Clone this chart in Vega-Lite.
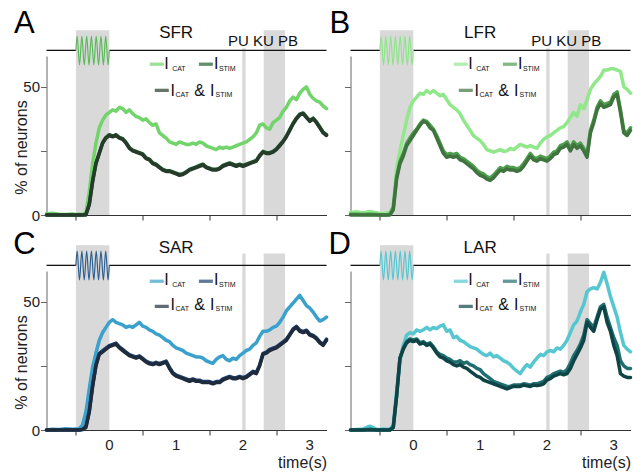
{
"$schema": "https://vega.github.io/schema/vega-lite/v6.json",
"background": "white",
"padding": {"left": 12.5, "top": 7, "right": 0, "bottom": 0},
"config": {
 "view": {"stroke": null},
 "font": "Liberation Sans",
 "axis": {"grid": false, "domainColor": "#333", "tickColor": "#333", "tickSize": 5, "labelFont": "Liberation Sans", "labelFontSize": 15, "labelColor": "#222", "labelPadding": 2, "labelOverlap": false, "titleFont": "Liberation Sans", "titleFontSize": 16, "titleFontWeight": "normal", "titleColor": "#222"},
 "axisY": {"domainColor": "#666", "tickColor": "#666", "tickSize": 6, "labelPadding": 1},
 "axisX": {"labelFlush": false, "titlePadding": 3}
},
"datasets": {
 "sine": [{"t":-0.5,"v":64.2},{"t":-0.482,"v":69.8},{"t":-0.446,"v":58.5},{"t":-0.411,"v":69.8},{"t":-0.375,"v":58.5},{"t":-0.339,"v":69.8},{"t":-0.304,"v":58.5},{"t":-0.268,"v":69.8},{"t":-0.232,"v":58.5},{"t":-0.196,"v":69.8},{"t":-0.161,"v":58.5},{"t":-0.125,"v":69.8},{"t":-0.089,"v":58.5},{"t":-0.054,"v":69.8},{"t":-0.018,"v":58.5},{"t":0,"v":64.2}],
 "xlabels": [{"t":0},{"t":1},{"t":2},{"t":3}],
 "lines": [
{"t":-0.94,"A1":0.5,"A2":0,"A3":0,"B1":1,"B2":0.3,"B3":0,"C1":0,"C2":0,"C3":0,"D1":0,"D2":0,"D3":0},
{"t":-0.85,"A1":0.7,"A2":0,"A3":0,"B1":1.3,"B2":0.3,"B3":0,"C1":0.3,"C2":0,"C3":0,"D1":0.2,"D2":0,"D3":0},
{"t":-0.75,"A1":0.3,"A2":0,"A3":0,"B1":0.8,"B2":0.2,"B3":0,"C1":0.2,"C2":0,"C3":0,"D1":0.4,"D2":0,"D3":0},
{"t":-0.65,"A1":0.2,"A2":0,"A3":0,"B1":1.4,"B2":0.3,"B3":0,"C1":0.5,"C2":0,"C3":0,"D1":1.5,"D2":0.3,"D3":0},
{"t":-0.55,"A1":0.4,"A2":0,"A3":0,"B1":0.9,"B2":0.2,"B3":0,"C1":0.3,"C2":0,"C3":0,"D1":0.3,"D2":0,"D3":0},
{"t":-0.5,"A1":0.2,"A2":0,"A3":0,"B1":0.6,"B2":0,"B3":0,"C1":0.4,"C2":0,"C3":0,"D1":0.2,"D2":0,"D3":0},
{"t":-0.45,"A1":0.3,"A2":0,"A3":0,"B1":0.5,"B2":0,"B3":0,"C1":0.5,"C2":0,"C3":0,"D1":0.4,"D2":0,"D3":0},
{"t":-0.4,"A1":0.2,"A2":0,"A3":0,"B1":0.8,"B2":0,"B3":0,"C1":2,"C2":0.3,"C3":0.2,"D1":0.3,"D2":0,"D3":0},
{"t":-0.35,"A1":1,"A2":0.3,"A3":0,"B1":1,"B2":0.3,"B3":0,"C1":7,"C2":1.4,"C3":1,"D1":0.3,"D2":0,"D3":0},
{"t":-0.3,"A1":9,"A2":4.3,"A3":4,"B1":3,"B2":3,"B3":2,"C1":16,"C2":7.4,"C3":7,"D1":2,"D2":1,"D3":1},
{"t":-0.25,"A1":20,"A2":13.3,"A3":13,"B1":18,"B2":15,"B3":14,"C1":24.5,"C2":17.4,"C3":17,"D1":15,"D2":13.5,"D3":13},
{"t":-0.2,"A1":28,"A2":20.3,"A3":20,"B1":25,"B2":21,"B3":20,"C1":30,"C2":25.4,"C3":25,"D1":27,"D2":28,"D3":28},
{"t":-0.15,"A1":34,"A2":24.3,"A3":24,"B1":31,"B2":24,"B3":23,"C1":35,"C2":29.9,"C3":29.5,"D1":33,"D2":32,"D3":31.5},
{"t":-0.1,"A1":37,"A2":28.3,"A3":28,"B1":37,"B2":28,"B3":27,"C1":38,"C2":30.9,"C3":30.5,"D1":37,"D2":34.5,"D3":34},
{"t":-0.05,"A1":39,"A2":30.3,"A3":30,"B1":42,"B2":30,"B3":29,"C1":40,"C2":31.9,"C3":31.5,"D1":38,"D2":35.5,"D3":35},
{"t":0,"A1":40,"A2":31.3,"A3":31,"B1":44.5,"B2":32,"B3":31,"C1":42,"C2":32.9,"C3":32.5,"D1":37.5,"D2":35,"D3":34.5},
{"t":0.05,"A1":41,"A2":30.8,"A3":30.5,"B1":46,"B2":33.5,"B3":33,"C1":43,"C2":33.4,"C3":33,"D1":39,"D2":35.5,"D3":35},
{"t":0.1,"A1":40.5,"A2":31.3,"A3":31,"B1":47.5,"B2":35.5,"B3":35,"C1":42,"C2":33.9,"C3":33.5,"D1":38.5,"D2":34,"D3":33.5},
{"t":0.15,"A1":42,"A2":30.3,"A3":30,"B1":47,"B2":37,"B3":36.5,"C1":41.5,"C2":32.4,"C3":32,"D1":39,"D2":34.5,"D3":34},
{"t":0.2,"A1":41.5,"A2":29.8,"A3":29.5,"B1":48.5,"B2":36.5,"B3":36,"C1":41,"C2":31.4,"C3":31,"D1":40,"D2":33.5,"D3":33},
{"t":0.25,"A1":40,"A2":28.3,"A3":28,"B1":47.5,"B2":35,"B3":34,"C1":40,"C2":30.4,"C3":30,"D1":39,"D2":34,"D3":33.5},
{"t":0.3,"A1":41,"A2":26.3,"A3":26,"B1":48.5,"B2":33.5,"B3":33,"C1":40.5,"C2":29.4,"C3":29,"D1":40,"D2":32.5,"D3":32},
{"t":0.35,"A1":39.5,"A2":25.3,"A3":25,"B1":47.5,"B2":31,"B3":30,"C1":40,"C2":28.9,"C3":28.5,"D1":39.5,"D2":30.5,"D3":30},
{"t":0.4,"A1":38.5,"A2":24.8,"A3":24.5,"B1":46.5,"B2":28,"B3":27,"C1":41,"C2":28.4,"C3":28,"D1":40.5,"D2":29.5,"D3":28.5},
{"t":0.45,"A1":38,"A2":24.3,"A3":24,"B1":47,"B2":25,"B3":24,"C1":42,"C2":28.9,"C3":28.5,"D1":41,"D2":29,"D3":28},
{"t":0.5,"A1":37,"A2":23.8,"A3":23.5,"B1":45,"B2":23.5,"B3":22.5,"C1":40.5,"C2":27.9,"C3":27.5,"D1":38.5,"D2":28,"D3":27},
{"t":0.55,"A1":37.5,"A2":22.3,"A3":22,"B1":43,"B2":24,"B3":23,"C1":40,"C2":26.9,"C3":26.5,"D1":39,"D2":27.5,"D3":26.5},
{"t":0.6,"A1":36,"A2":21.8,"A3":21.5,"B1":42,"B2":23.5,"B3":22.5,"C1":39,"C2":26.2,"C3":25.8,"D1":36,"D2":26.5,"D3":25.5},
{"t":0.65,"A1":35,"A2":20.3,"A3":20,"B1":41,"B2":24,"B3":23,"C1":38.5,"C2":25.9,"C3":25.5,"D1":36.5,"D2":26.5,"D3":25},
{"t":0.7,"A1":35.5,"A2":19.8,"A3":19.5,"B1":39.5,"B2":22.5,"B3":21.5,"C1":37.5,"C2":26.4,"C3":26,"D1":35,"D2":27,"D3":25.5},
{"t":0.75,"A1":32,"A2":18.8,"A3":18.5,"B1":37,"B2":22,"B3":21,"C1":37,"C2":25.9,"C3":25.5,"D1":34.5,"D2":26,"D3":24.5},
{"t":0.8,"A1":31,"A2":17.8,"A3":17.5,"B1":35,"B2":21,"B3":20,"C1":36,"C2":26.4,"C3":26,"D1":33.5,"D2":26.5,"D3":24},
{"t":0.85,"A1":30,"A2":17.3,"A3":17,"B1":33,"B2":20,"B3":19,"C1":35,"C2":26.9,"C3":26.5,"D1":32.5,"D2":25.5,"D3":23},
{"t":0.9,"A1":28.5,"A2":17.3,"A3":17,"B1":31,"B2":19,"B3":18,"C1":34.5,"C2":24.4,"C3":24,"D1":32,"D2":25,"D3":22},
{"t":0.95,"A1":28,"A2":16.8,"A3":16.5,"B1":30,"B2":17.5,"B3":16.5,"C1":33,"C2":22.4,"C3":22,"D1":31.5,"D2":24,"D3":21},
{"t":1,"A1":27.5,"A2":16.3,"A3":16,"B1":29,"B2":16.5,"B3":15.5,"C1":32,"C2":21.4,"C3":21,"D1":30.5,"D2":23.5,"D3":20.5},
{"t":1.05,"A1":28.5,"A2":15.8,"A3":15.5,"B1":27.5,"B2":16,"B3":15,"C1":31.5,"C2":20.9,"C3":20.5,"D1":29.5,"D2":22,"D3":19.5},
{"t":1.1,"A1":28,"A2":16.1,"A3":15.8,"B1":25.5,"B2":15,"B3":14,"C1":31,"C2":20.4,"C3":20,"D1":29,"D2":21,"D3":19},
{"t":1.15,"A1":27.5,"A2":16.8,"A3":16.5,"B1":25,"B2":14.5,"B3":13.5,"C1":30,"C2":19.9,"C3":19.5,"D1":30,"D2":20,"D3":18.5},
{"t":1.2,"A1":27.5,"A2":17.8,"A3":17.5,"B1":24.5,"B2":15.5,"B3":14.5,"C1":29.5,"C2":19.4,"C3":19,"D1":28.5,"D2":19,"D3":18},
{"t":1.25,"A1":28,"A2":18.3,"A3":18,"B1":25,"B2":17,"B3":16,"C1":29,"C2":19.9,"C3":19.5,"D1":29,"D2":18.5,"D3":17.5},
{"t":1.3,"A1":27.5,"A2":18.8,"A3":18.5,"B1":25.5,"B2":18.5,"B3":17.5,"C1":28.5,"C2":19.4,"C3":19,"D1":28,"D2":18,"D3":17},
{"t":1.35,"A1":28.5,"A2":19.3,"A3":19,"B1":24.8,"B2":18,"B3":17,"C1":28.5,"C2":19.4,"C3":19,"D1":27,"D2":17.5,"D3":16.5},
{"t":1.4,"A1":28,"A2":19.8,"A3":19.5,"B1":25,"B2":19,"B3":18,"C1":28,"C2":18.9,"C3":18.5,"D1":26.5,"D2":17,"D3":16},
{"t":1.45,"A1":27,"A2":18.8,"A3":18.5,"B1":26,"B2":18.5,"B3":17.5,"C1":27,"C2":18.9,"C3":18.5,"D1":25.5,"D2":17,"D3":16.5},
{"t":1.5,"A1":26.5,"A2":18.3,"A3":18,"B1":25.5,"B2":18.5,"B3":17.5,"C1":26.5,"C2":18.9,"C3":18.5,"D1":24,"D2":17.5,"D3":17},
{"t":1.55,"A1":26,"A2":17.8,"A3":17.5,"B1":26.5,"B2":18,"B3":17,"C1":26,"C2":18.4,"C3":18,"D1":23,"D2":17.5,"D3":17},
{"t":1.6,"A1":25.5,"A2":17.8,"A3":17.5,"B1":27.5,"B2":18.5,"B3":17.5,"C1":27.5,"C2":18.9,"C3":18.5,"D1":22,"D2":17.5,"D3":17},
{"t":1.65,"A1":26.5,"A2":18.3,"A3":18,"B1":27,"B2":20,"B3":19,"C1":28.5,"C2":18.9,"C3":18.5,"D1":24,"D2":18,"D3":17.5},
{"t":1.7,"A1":26,"A2":19.3,"A3":19,"B1":26.5,"B2":22,"B3":21,"C1":29,"C2":19.9,"C3":19.5,"D1":25.5,"D2":17.8,"D3":17.2},
{"t":1.75,"A1":26.5,"A2":19.8,"A3":19.5,"B1":27,"B2":24,"B3":23,"C1":27.5,"C2":20.4,"C3":20,"D1":24.5,"D2":17.5,"D3":17},
{"t":1.8,"A1":26,"A2":20.3,"A3":20,"B1":26.5,"B2":22.5,"B3":21.5,"C1":27,"C2":20.9,"C3":20.5,"D1":26.5,"D2":18,"D3":17.5},
{"t":1.85,"A1":26.5,"A2":19.8,"A3":19.5,"B1":26,"B2":22,"B3":21,"C1":28,"C2":20.4,"C3":20,"D1":28,"D2":18,"D3":17.3},
{"t":1.9,"A1":27,"A2":19.3,"A3":19,"B1":28,"B2":23,"B3":22,"C1":27.5,"C2":20.4,"C3":20,"D1":29.5,"D2":18.5,"D3":17.5},
{"t":1.95,"A1":27.5,"A2":19.8,"A3":19.5,"B1":29.5,"B2":22.5,"B3":21.5,"C1":29,"C2":20.9,"C3":20.5,"D1":29,"D2":19,"D3":18},
{"t":2,"A1":28,"A2":19.3,"A3":19,"B1":30.5,"B2":22,"B3":21,"C1":30,"C2":20.4,"C3":20,"D1":30.5,"D2":20.5,"D3":19.5},
{"t":2.05,"A1":28.5,"A2":19.8,"A3":19.5,"B1":31,"B2":23,"B3":22,"C1":31,"C2":20.9,"C3":20.5,"D1":31,"D2":21,"D3":20},
{"t":2.1,"A1":29.5,"A2":20.3,"A3":20,"B1":32,"B2":24.5,"B3":23.5,"C1":31.5,"C2":21.9,"C3":21.5,"D1":30.5,"D2":22,"D3":21},
{"t":2.15,"A1":30.5,"A2":20.8,"A3":20.5,"B1":33,"B2":25,"B3":24,"C1":33,"C2":22.9,"C3":22.5,"D1":32,"D2":22.5,"D3":21.5},
{"t":2.2,"A1":32,"A2":21.3,"A3":21,"B1":34,"B2":27,"B3":26,"C1":34,"C2":22.4,"C3":22,"D1":31.5,"D2":23,"D3":22},
{"t":2.25,"A1":35,"A2":23.3,"A3":23,"B1":34.5,"B2":27.5,"B3":26.5,"C1":36.5,"C2":25.4,"C3":25,"D1":33,"D2":22.5,"D3":21.5},
{"t":2.3,"A1":35.5,"A2":24.8,"A3":24.5,"B1":36,"B2":28.5,"B3":27.5,"C1":38.5,"C2":29.9,"C3":29.5,"D1":35,"D2":23.5,"D3":22},
{"t":2.35,"A1":34,"A2":24.3,"A3":24,"B1":38,"B2":26,"B3":25,"C1":38.5,"C2":30.4,"C3":30,"D1":38,"D2":26,"D3":24},
{"t":2.4,"A1":33.5,"A2":24.3,"A3":24,"B1":40,"B2":28.5,"B3":27.5,"C1":39,"C2":31.4,"C3":31,"D1":41,"D2":29,"D3":27},
{"t":2.45,"A1":36,"A2":24.8,"A3":24.5,"B1":38.5,"B2":27,"B3":26,"C1":40,"C2":31.9,"C3":31.5,"D1":42.5,"D2":31,"D3":29.5},
{"t":2.5,"A1":37,"A2":25.8,"A3":25.5,"B1":43,"B2":28,"B3":27,"C1":40.5,"C2":32.4,"C3":32,"D1":46,"D2":33.5,"D3":32},
{"t":2.55,"A1":38,"A2":27.3,"A3":27,"B1":41.5,"B2":26,"B3":25,"C1":42,"C2":33.4,"C3":33,"D1":49,"D2":37,"D3":35},
{"t":2.6,"A1":40.5,"A2":28.8,"A3":28.5,"B1":45,"B2":23.5,"B3":22.5,"C1":44,"C2":34.4,"C3":34,"D1":54,"D2":43,"D3":42},
{"t":2.65,"A1":42,"A2":30.8,"A3":30.5,"B1":49,"B2":33,"B3":32,"C1":46.5,"C2":35.4,"C3":35,"D1":55,"D2":41.5,"D3":40},
{"t":2.7,"A1":44.5,"A2":33.3,"A3":33,"B1":51,"B2":37,"B3":36,"C1":48,"C2":37.4,"C3":37,"D1":55.5,"D2":40,"D3":38.5},
{"t":2.75,"A1":46,"A2":35.8,"A3":35.5,"B1":52.5,"B2":42,"B3":41,"C1":49.5,"C2":39.4,"C3":39,"D1":55,"D2":44,"D3":43},
{"t":2.8,"A1":45,"A2":37.8,"A3":37.5,"B1":54,"B2":44.5,"B3":43.5,"C1":51,"C2":40.4,"C3":40,"D1":57.5,"D2":48,"D3":47},
{"t":2.85,"A1":47.5,"A2":39.3,"A3":39,"B1":56.5,"B2":43,"B3":42,"C1":52.5,"C2":38.9,"C3":38.5,"D1":61.5,"D2":49,"D3":48},
{"t":2.9,"A1":49,"A2":39.8,"A3":39.5,"B1":56.5,"B2":43.5,"B3":42.5,"C1":50.5,"C2":38.4,"C3":38,"D1":57,"D2":44,"D3":42},
{"t":2.95,"A1":50,"A2":38.3,"A3":38,"B1":57,"B2":44,"B3":43,"C1":48.5,"C2":38.9,"C3":38.5,"D1":52,"D2":40,"D3":38.5},
{"t":3,"A1":47,"A2":36.8,"A3":36.5,"B1":57,"B2":47,"B3":46,"C1":47.5,"C2":37.4,"C3":37,"D1":48,"D2":36,"D3":33},
{"t":3.05,"A1":45.5,"A2":37.8,"A3":37.5,"B1":56.5,"B2":48,"B3":47,"C1":46,"C2":36.9,"C3":36.5,"D1":44,"D2":33,"D3":29},
{"t":3.1,"A1":44.5,"A2":36.3,"A3":36,"B1":56,"B2":41,"B3":40,"C1":44,"C2":35.9,"C3":35.5,"D1":38,"D2":27,"D3":22},
{"t":3.15,"A1":44,"A2":34.3,"A3":34,"B1":50,"B2":33,"B3":32,"C1":42.5,"C2":34.4,"C3":34,"D1":33,"D2":25,"D3":21},
{"t":3.2,"A1":42.5,"A2":32.3,"A3":32,"B1":49,"B2":32,"B3":31,"C1":43,"C2":33.4,"C3":33,"D1":31.5,"D2":24,"D3":20.5},
{"t":3.25,"A1":41.5,"A2":31.3,"A3":31,"B1":47.5,"B2":34,"B3":33,"C1":44,"C2":35.4,"C3":35,"D1":30.5,"D2":24,"D3":20.5}
 ]
},
"columns": 2,
"spacing": {"row": 56, "column": 24},
"bounds": "flush",
"resolve": {"scale": {"color": "independent"}},
"concat": [
{
 "width": 280, "height": 159,
 "layer": [
  {"data": {"values": [{"t":-0.5,"t2":0,"lo":0,"top":72},{"t":1.99,"t2":2.04,"lo":0,"top":65},{"t":2.31,"t2":2.63,"lo":0,"top":72}]},
   "mark": {"type": "rect", "color": "#d9d9d9"},
   "encoding": {
    "x": {"field": "t", "type": "quantitative", "scale": {"domain": [-0.94, 3.25], "nice": false, "zero": false}, "axis": {"values": [-0.5,0,0.5,1,1.5,2,2.5,3], "labels": false, "title": null}},
    "x2": {"field": "t2"},
    "y": {"field": "lo", "type": "quantitative", "scale": {"domain": [0, 62], "nice": false, "zero": false}, "axis": {"values": [0,25,50], "labelExpr": "datum.value == 25 ? '' : format(datum.value, 'd')", "title": "% of neurons", "titleX": -20, "titleY": 91, "titleBaseline": "alphabetic"}},
    "y2": {"field": "top"}}},
  {"data": {"values": [{"t":-0.94,"t2":-0.5},{"t":0,"t2":3.25}]}, "mark": {"type": "rule", "color": "#111", "strokeWidth": 1.3},
   "encoding": {"x": {"field": "t", "type": "quantitative"}, "x2": {"field": "t2"}, "y": {"datum": 64.2, "type": "quantitative"}}},
  {"data": {"name": "sine"}, "mark": {"type": "line", "color": "#5cb85c", "strokeWidth": 1.2, "interpolate": "monotone"},
   "encoding": {"x": {"field": "t", "type": "quantitative"}, "y": {"field": "v", "type": "quantitative"}}},
  {"data": {"name": "lines"}, "transform": [{"fold": ["A1","A2","A3"], "as": ["s","v"]}],
   "mark": {"type": "line", "strokeWidth": 3.5, "strokeJoin": "round", "strokeCap": "round"},
   "encoding": {"x": {"field": "t", "type": "quantitative"}, "y": {"field": "v", "type": "quantitative"},
    "color": {"field": "s", "type": "nominal", "scale": {"domain": ["A1","A2","A3"], "range": ["#72d46a","#1f5f2e","#263b2a"]}, "legend": null}}},
  {"data": {"values": [{}]}, "mark": {"type": "text", "text": "SFR", "fontSize": 17, "color": "#111"}, "encoding": {"x": {"datum": 1.0, "type": "quantitative"}, "y": {"datum": 71, "type": "quantitative"}}},
  {"data": {"values": [{}]}, "mark": {"type": "text", "text": "PU KU PB", "fontSize": 15, "color": "#111"}, "encoding": {"x": {"datum": 2.30, "type": "quantitative"}, "y": {"datum": 67.7, "type": "quantitative"}}},
  {"data": {"values": [{}]}, "mark": {"type": "text", "text": "A", "fontSize": 31, "color": "#000"}, "encoding": {"x": {"datum": -1.27, "type": "quantitative"}, "y": {"datum": 74.5, "type": "quantitative"}}},
  {"data": {"values": [{}]}, "mark": {"type": "tick", "orient": "horizontal", "size": 14, "thickness": 3.3, "color": "#72d46a"}, "encoding": {"x": {"datum": 0.71, "type": "quantitative"}, "y": {"datum": 58.8, "type": "quantitative"}}},
  {"data": {"values": [{}]}, "mark": {"type": "tick", "orient": "horizontal", "size": 14, "thickness": 3.3, "color": "#1f5f2e"}, "encoding": {"x": {"datum": 1.445, "type": "quantitative"}, "y": {"datum": 58.8, "type": "quantitative"}}},
  {"data": {"values": [{}]}, "mark": {"type": "tick", "orient": "horizontal", "size": 14, "thickness": 3.3, "color": "#263b2a"}, "encoding": {"x": {"datum": 0.785, "type": "quantitative"}, "y": {"datum": 48.6, "type": "quantitative"}}},
  {"data": {"values": [{}]}, "mark": {"type": "text", "text": "I", "fontSize": 16, "color": "#111"}, "encoding": {"x": {"datum": 0.857, "type": "quantitative"}, "y": {"datum": 59, "type": "quantitative"}}},
  {"data": {"values": [{}]}, "mark": {"type": "text", "text": "CAT", "fontSize": 7, "align": "left", "color": "#111"}, "encoding": {"x": {"datum": 0.94, "type": "quantitative"}, "y": {"datum": 57, "type": "quantitative"}}},
  {"data": {"values": [{}]}, "mark": {"type": "text", "text": "I", "fontSize": 16, "color": "#111"}, "encoding": {"x": {"datum": 1.60, "type": "quantitative"}, "y": {"datum": 59, "type": "quantitative"}}},
  {"data": {"values": [{}]}, "mark": {"type": "text", "text": "STIM", "fontSize": 7, "align": "left", "color": "#111"}, "encoding": {"x": {"datum": 1.64, "type": "quantitative"}, "y": {"datum": 57, "type": "quantitative"}}},
  {"data": {"values": [{}]}, "mark": {"type": "text", "text": "I", "fontSize": 16, "color": "#111"}, "encoding": {"x": {"datum": 0.948, "type": "quantitative"}, "y": {"datum": 48.4, "type": "quantitative"}}},
  {"data": {"values": [{}]}, "mark": {"type": "text", "text": "CAT", "fontSize": 7, "align": "left", "color": "#111"}, "encoding": {"x": {"datum": 0.99, "type": "quantitative"}, "y": {"datum": 46.9, "type": "quantitative"}}},
  {"data": {"values": [{}]}, "mark": {"type": "text", "text": "&", "fontSize": 16, "color": "#111"}, "encoding": {"x": {"datum": 1.352, "type": "quantitative"}, "y": {"datum": 48.4, "type": "quantitative"}}},
  {"data": {"values": [{}]}, "mark": {"type": "text", "text": "I", "fontSize": 16, "color": "#111"}, "encoding": {"x": {"datum": 1.54, "type": "quantitative"}, "y": {"datum": 48.4, "type": "quantitative"}}},
  {"data": {"values": [{}]}, "mark": {"type": "text", "text": "STIM", "fontSize": 7, "align": "left", "color": "#111"}, "encoding": {"x": {"datum": 1.59, "type": "quantitative"}, "y": {"datum": 46.9, "type": "quantitative"}}}
 ]
},
{
 "width": 280, "height": 159,
 "layer": [
  {"data": {"values": [{"t":-0.5,"t2":0,"lo":0,"top":72},{"t":1.99,"t2":2.04,"lo":0,"top":65},{"t":2.31,"t2":2.63,"lo":0,"top":72}]},
   "mark": {"type": "rect", "color": "#d9d9d9"},
   "encoding": {
    "x": {"field": "t", "type": "quantitative", "scale": {"domain": [-0.94, 3.25], "nice": false, "zero": false}, "axis": {"values": [-0.5,0,0.5,1,1.5,2,2.5,3], "labels": false, "title": null}},
    "x2": {"field": "t2"},
    "y": {"field": "lo", "type": "quantitative", "scale": {"domain": [0, 62], "nice": false, "zero": false}, "axis": {"values": [0,25,50], "labels": false, "title": null}},
    "y2": {"field": "top"}}},
  {"data": {"values": [{"t":-0.94,"t2":-0.5},{"t":0,"t2":3.25}]}, "mark": {"type": "rule", "color": "#111", "strokeWidth": 1.3},
   "encoding": {"x": {"field": "t", "type": "quantitative"}, "x2": {"field": "t2"}, "y": {"datum": 64.2, "type": "quantitative"}}},
  {"data": {"name": "sine"}, "mark": {"type": "line", "color": "#8ee48a", "strokeWidth": 1.2, "interpolate": "monotone"},
   "encoding": {"x": {"field": "t", "type": "quantitative"}, "y": {"field": "v", "type": "quantitative"}}},
  {"data": {"name": "lines"}, "transform": [{"fold": ["B1","B2","B3"], "as": ["s","v"]}],
   "mark": {"type": "line", "strokeWidth": 3.5, "strokeJoin": "round", "strokeCap": "round"},
   "encoding": {"x": {"field": "t", "type": "quantitative"}, "y": {"field": "v", "type": "quantitative"},
    "color": {"field": "s", "type": "nominal", "scale": {"domain": ["B1","B2","B3"], "range": ["#90e88a","#4d9e4d","#3f743f"]}, "legend": null}}},
  {"data": {"values": [{}]}, "mark": {"type": "text", "text": "LFR", "fontSize": 17, "color": "#111"}, "encoding": {"x": {"datum": 1.0, "type": "quantitative"}, "y": {"datum": 71, "type": "quantitative"}}},
  {"data": {"values": [{}]}, "mark": {"type": "text", "text": "PU KU PB", "fontSize": 15, "color": "#111"}, "encoding": {"x": {"datum": 2.29, "type": "quantitative"}, "y": {"datum": 67.7, "type": "quantitative"}}},
  {"data": {"values": [{}]}, "mark": {"type": "text", "text": "B", "fontSize": 31, "color": "#000"}, "encoding": {"x": {"datum": -1.10, "type": "quantitative"}, "y": {"datum": 74.5, "type": "quantitative"}}},
  {"data": {"values": [{}]}, "mark": {"type": "tick", "orient": "horizontal", "size": 14, "thickness": 3.3, "color": "#90e88a"}, "encoding": {"x": {"datum": 0.71, "type": "quantitative"}, "y": {"datum": 58.8, "type": "quantitative"}}},
  {"data": {"values": [{}]}, "mark": {"type": "tick", "orient": "horizontal", "size": 14, "thickness": 3.3, "color": "#4d9e4d"}, "encoding": {"x": {"datum": 1.445, "type": "quantitative"}, "y": {"datum": 58.8, "type": "quantitative"}}},
  {"data": {"values": [{}]}, "mark": {"type": "tick", "orient": "horizontal", "size": 14, "thickness": 3.3, "color": "#3f743f"}, "encoding": {"x": {"datum": 0.785, "type": "quantitative"}, "y": {"datum": 48.6, "type": "quantitative"}}},
  {"data": {"values": [{}]}, "mark": {"type": "text", "text": "I", "fontSize": 16, "color": "#111"}, "encoding": {"x": {"datum": 0.857, "type": "quantitative"}, "y": {"datum": 59, "type": "quantitative"}}},
  {"data": {"values": [{}]}, "mark": {"type": "text", "text": "CAT", "fontSize": 7, "align": "left", "color": "#111"}, "encoding": {"x": {"datum": 0.94, "type": "quantitative"}, "y": {"datum": 57, "type": "quantitative"}}},
  {"data": {"values": [{}]}, "mark": {"type": "text", "text": "I", "fontSize": 16, "color": "#111"}, "encoding": {"x": {"datum": 1.60, "type": "quantitative"}, "y": {"datum": 59, "type": "quantitative"}}},
  {"data": {"values": [{}]}, "mark": {"type": "text", "text": "STIM", "fontSize": 7, "align": "left", "color": "#111"}, "encoding": {"x": {"datum": 1.64, "type": "quantitative"}, "y": {"datum": 57, "type": "quantitative"}}},
  {"data": {"values": [{}]}, "mark": {"type": "text", "text": "I", "fontSize": 16, "color": "#111"}, "encoding": {"x": {"datum": 0.948, "type": "quantitative"}, "y": {"datum": 48.4, "type": "quantitative"}}},
  {"data": {"values": [{}]}, "mark": {"type": "text", "text": "CAT", "fontSize": 7, "align": "left", "color": "#111"}, "encoding": {"x": {"datum": 0.99, "type": "quantitative"}, "y": {"datum": 46.9, "type": "quantitative"}}},
  {"data": {"values": [{}]}, "mark": {"type": "text", "text": "&", "fontSize": 16, "color": "#111"}, "encoding": {"x": {"datum": 1.352, "type": "quantitative"}, "y": {"datum": 48.4, "type": "quantitative"}}},
  {"data": {"values": [{}]}, "mark": {"type": "text", "text": "I", "fontSize": 16, "color": "#111"}, "encoding": {"x": {"datum": 1.54, "type": "quantitative"}, "y": {"datum": 48.4, "type": "quantitative"}}},
  {"data": {"values": [{}]}, "mark": {"type": "text", "text": "STIM", "fontSize": 7, "align": "left", "color": "#111"}, "encoding": {"x": {"datum": 1.59, "type": "quantitative"}, "y": {"datum": 46.9, "type": "quantitative"}}}
 ]
},
{
 "width": 280, "height": 159,
 "layer": [
  {"data": {"values": [{"t":-0.5,"t2":0,"lo":0,"top":72},{"t":1.99,"t2":2.04,"lo":0,"top":68.8},{"t":2.31,"t2":2.63,"lo":0,"top":68.8}]},
   "mark": {"type": "rect", "color": "#d9d9d9"},
   "encoding": {
    "x": {"field": "t", "type": "quantitative", "scale": {"domain": [-0.94, 3.25], "nice": false, "zero": false}, "axis": {"values": [-0.5,0,0.5,1,1.5,2,2.5,3], "labels": false, "title": "time(s)", "titleAnchor": "end", "titlePadding": 19}},
    "x2": {"field": "t2"},
    "y": {"field": "lo", "type": "quantitative", "scale": {"domain": [0, 62], "nice": false, "zero": false}, "axis": {"values": [0,25,50], "labelExpr": "datum.value == 25 ? '' : format(datum.value, 'd')", "title": "% of neurons", "titleX": -20, "titleY": 91, "titleBaseline": "alphabetic"}},
    "y2": {"field": "top"}}},
  {"data": {"name": "xlabels"}, "mark": {"type": "text", "fontSize": 15, "color": "#222", "baseline": "middle", "dy": 15},
   "encoding": {"x": {"field": "t", "type": "quantitative"}, "y": {"datum": 0, "type": "quantitative"}, "text": {"field": "t", "type": "nominal"}}},
  {"data": {"values": [{"t":-0.94,"t2":-0.5},{"t":0,"t2":3.25}]}, "mark": {"type": "rule", "color": "#111", "strokeWidth": 1.3},
   "encoding": {"x": {"field": "t", "type": "quantitative"}, "x2": {"field": "t2"}, "y": {"datum": 64.2, "type": "quantitative"}}},
  {"data": {"name": "sine"}, "mark": {"type": "line", "color": "#2f5f90", "strokeWidth": 1.2, "interpolate": "monotone"},
   "encoding": {"x": {"field": "t", "type": "quantitative"}, "y": {"field": "v", "type": "quantitative"}}},
  {"data": {"name": "lines"}, "transform": [{"fold": ["C1","C2","C3"], "as": ["s","v"]}],
   "mark": {"type": "line", "strokeWidth": 3.5, "strokeJoin": "round", "strokeCap": "round"},
   "encoding": {"x": {"field": "t", "type": "quantitative"}, "y": {"field": "v", "type": "quantitative"},
    "color": {"field": "s", "type": "nominal", "scale": {"domain": ["C1","C2","C3"], "range": ["#3aa1cc","#1d3f6e","#1e2b3c"]}, "legend": null}}},
  {"data": {"values": [{}]}, "mark": {"type": "text", "text": "SAR", "fontSize": 17, "color": "#111"}, "encoding": {"x": {"datum": 1.0, "type": "quantitative"}, "y": {"datum": 71, "type": "quantitative"}}},
  {"data": {"values": [{}]}, "mark": {"type": "text", "text": "C", "fontSize": 31, "color": "#000"}, "encoding": {"x": {"datum": -1.27, "type": "quantitative"}, "y": {"datum": 72, "type": "quantitative"}}},
  {"data": {"values": [{}]}, "mark": {"type": "tick", "orient": "horizontal", "size": 14, "thickness": 3.3, "color": "#3aa1cc"}, "encoding": {"x": {"datum": 0.71, "type": "quantitative"}, "y": {"datum": 58, "type": "quantitative"}}},
  {"data": {"values": [{}]}, "mark": {"type": "tick", "orient": "horizontal", "size": 14, "thickness": 3.3, "color": "#1d3f6e"}, "encoding": {"x": {"datum": 1.445, "type": "quantitative"}, "y": {"datum": 58, "type": "quantitative"}}},
  {"data": {"values": [{}]}, "mark": {"type": "tick", "orient": "horizontal", "size": 14, "thickness": 3.3, "color": "#1e2b3c"}, "encoding": {"x": {"datum": 0.785, "type": "quantitative"}, "y": {"datum": 48.2, "type": "quantitative"}}},
  {"data": {"values": [{}]}, "mark": {"type": "text", "text": "I", "fontSize": 16, "color": "#111"}, "encoding": {"x": {"datum": 0.857, "type": "quantitative"}, "y": {"datum": 58.4, "type": "quantitative"}}},
  {"data": {"values": [{}]}, "mark": {"type": "text", "text": "CAT", "fontSize": 7, "align": "left", "color": "#111"}, "encoding": {"x": {"datum": 0.94, "type": "quantitative"}, "y": {"datum": 56.4, "type": "quantitative"}}},
  {"data": {"values": [{}]}, "mark": {"type": "text", "text": "I", "fontSize": 16, "color": "#111"}, "encoding": {"x": {"datum": 1.60, "type": "quantitative"}, "y": {"datum": 58.4, "type": "quantitative"}}},
  {"data": {"values": [{}]}, "mark": {"type": "text", "text": "STIM", "fontSize": 7, "align": "left", "color": "#111"}, "encoding": {"x": {"datum": 1.64, "type": "quantitative"}, "y": {"datum": 56.4, "type": "quantitative"}}},
  {"data": {"values": [{}]}, "mark": {"type": "text", "text": "I", "fontSize": 16, "color": "#111"}, "encoding": {"x": {"datum": 0.948, "type": "quantitative"}, "y": {"datum": 48.6, "type": "quantitative"}}},
  {"data": {"values": [{}]}, "mark": {"type": "text", "text": "CAT", "fontSize": 7, "align": "left", "color": "#111"}, "encoding": {"x": {"datum": 0.99, "type": "quantitative"}, "y": {"datum": 47, "type": "quantitative"}}},
  {"data": {"values": [{}]}, "mark": {"type": "text", "text": "&", "fontSize": 16, "color": "#111"}, "encoding": {"x": {"datum": 1.352, "type": "quantitative"}, "y": {"datum": 48.6, "type": "quantitative"}}},
  {"data": {"values": [{}]}, "mark": {"type": "text", "text": "I", "fontSize": 16, "color": "#111"}, "encoding": {"x": {"datum": 1.54, "type": "quantitative"}, "y": {"datum": 48.6, "type": "quantitative"}}},
  {"data": {"values": [{}]}, "mark": {"type": "text", "text": "STIM", "fontSize": 7, "align": "left", "color": "#111"}, "encoding": {"x": {"datum": 1.59, "type": "quantitative"}, "y": {"datum": 47, "type": "quantitative"}}}
 ]
},
{
 "width": 280, "height": 159,
 "layer": [
  {"data": {"values": [{"t":-0.5,"t2":0,"lo":0,"top":72},{"t":1.99,"t2":2.04,"lo":0,"top":68.8},{"t":2.31,"t2":2.63,"lo":0,"top":68.8}]},
   "mark": {"type": "rect", "color": "#d9d9d9"},
   "encoding": {
    "x": {"field": "t", "type": "quantitative", "scale": {"domain": [-0.94, 3.25], "nice": false, "zero": false}, "axis": {"values": [-0.5,0,0.5,1,1.5,2,2.5,3], "labels": false, "title": "time(s)", "titleAnchor": "end", "titlePadding": 19}},
    "x2": {"field": "t2"},
    "y": {"field": "lo", "type": "quantitative", "scale": {"domain": [0, 62], "nice": false, "zero": false}, "axis": {"values": [0,25,50], "labels": false, "title": null}},
    "y2": {"field": "top"}}},
  {"data": {"name": "xlabels"}, "mark": {"type": "text", "fontSize": 15, "color": "#222", "baseline": "middle", "dy": 15},
   "encoding": {"x": {"field": "t", "type": "quantitative"}, "y": {"datum": 0, "type": "quantitative"}, "text": {"field": "t", "type": "nominal"}}},
  {"data": {"values": [{"t":-0.94,"t2":-0.5},{"t":0,"t2":3.25}]}, "mark": {"type": "rule", "color": "#111", "strokeWidth": 1.3},
   "encoding": {"x": {"field": "t", "type": "quantitative"}, "x2": {"field": "t2"}, "y": {"datum": 64.2, "type": "quantitative"}}},
  {"data": {"name": "sine"}, "mark": {"type": "line", "color": "#56c7d1", "strokeWidth": 1.2, "interpolate": "monotone"},
   "encoding": {"x": {"field": "t", "type": "quantitative"}, "y": {"field": "v", "type": "quantitative"}}},
  {"data": {"name": "lines"}, "transform": [{"fold": ["D1","D2","D3"], "as": ["s","v"]}],
   "mark": {"type": "line", "strokeWidth": 3.5, "strokeJoin": "round", "strokeCap": "round"},
   "encoding": {"x": {"field": "t", "type": "quantitative"}, "y": {"field": "v", "type": "quantitative"},
    "color": {"field": "s", "type": "nominal", "scale": {"domain": ["D1","D2","D3"], "range": ["#56c7d1","#1f6e70","#0e4446"]}, "legend": null}}},
  {"data": {"values": [{}]}, "mark": {"type": "text", "text": "LAR", "fontSize": 17, "color": "#111"}, "encoding": {"x": {"datum": 1.0, "type": "quantitative"}, "y": {"datum": 71, "type": "quantitative"}}},
  {"data": {"values": [{}]}, "mark": {"type": "text", "text": "D", "fontSize": 31, "color": "#000"}, "encoding": {"x": {"datum": -1.10, "type": "quantitative"}, "y": {"datum": 72, "type": "quantitative"}}},
  {"data": {"values": [{}]}, "mark": {"type": "tick", "orient": "horizontal", "size": 14, "thickness": 3.3, "color": "#56c7d1"}, "encoding": {"x": {"datum": 0.71, "type": "quantitative"}, "y": {"datum": 58, "type": "quantitative"}}},
  {"data": {"values": [{}]}, "mark": {"type": "tick", "orient": "horizontal", "size": 14, "thickness": 3.3, "color": "#1f6e70"}, "encoding": {"x": {"datum": 1.445, "type": "quantitative"}, "y": {"datum": 58, "type": "quantitative"}}},
  {"data": {"values": [{}]}, "mark": {"type": "tick", "orient": "horizontal", "size": 14, "thickness": 3.3, "color": "#0e4446"}, "encoding": {"x": {"datum": 0.785, "type": "quantitative"}, "y": {"datum": 48.2, "type": "quantitative"}}},
  {"data": {"values": [{}]}, "mark": {"type": "text", "text": "I", "fontSize": 16, "color": "#111"}, "encoding": {"x": {"datum": 0.857, "type": "quantitative"}, "y": {"datum": 58.4, "type": "quantitative"}}},
  {"data": {"values": [{}]}, "mark": {"type": "text", "text": "CAT", "fontSize": 7, "align": "left", "color": "#111"}, "encoding": {"x": {"datum": 0.94, "type": "quantitative"}, "y": {"datum": 56.4, "type": "quantitative"}}},
  {"data": {"values": [{}]}, "mark": {"type": "text", "text": "I", "fontSize": 16, "color": "#111"}, "encoding": {"x": {"datum": 1.60, "type": "quantitative"}, "y": {"datum": 58.4, "type": "quantitative"}}},
  {"data": {"values": [{}]}, "mark": {"type": "text", "text": "STIM", "fontSize": 7, "align": "left", "color": "#111"}, "encoding": {"x": {"datum": 1.64, "type": "quantitative"}, "y": {"datum": 56.4, "type": "quantitative"}}},
  {"data": {"values": [{}]}, "mark": {"type": "text", "text": "I", "fontSize": 16, "color": "#111"}, "encoding": {"x": {"datum": 0.948, "type": "quantitative"}, "y": {"datum": 48.6, "type": "quantitative"}}},
  {"data": {"values": [{}]}, "mark": {"type": "text", "text": "CAT", "fontSize": 7, "align": "left", "color": "#111"}, "encoding": {"x": {"datum": 0.99, "type": "quantitative"}, "y": {"datum": 47, "type": "quantitative"}}},
  {"data": {"values": [{}]}, "mark": {"type": "text", "text": "&", "fontSize": 16, "color": "#111"}, "encoding": {"x": {"datum": 1.352, "type": "quantitative"}, "y": {"datum": 48.6, "type": "quantitative"}}},
  {"data": {"values": [{}]}, "mark": {"type": "text", "text": "I", "fontSize": 16, "color": "#111"}, "encoding": {"x": {"datum": 1.54, "type": "quantitative"}, "y": {"datum": 48.6, "type": "quantitative"}}},
  {"data": {"values": [{}]}, "mark": {"type": "text", "text": "STIM", "fontSize": 7, "align": "left", "color": "#111"}, "encoding": {"x": {"datum": 1.59, "type": "quantitative"}, "y": {"datum": 47, "type": "quantitative"}}}
 ]
}
]
}
